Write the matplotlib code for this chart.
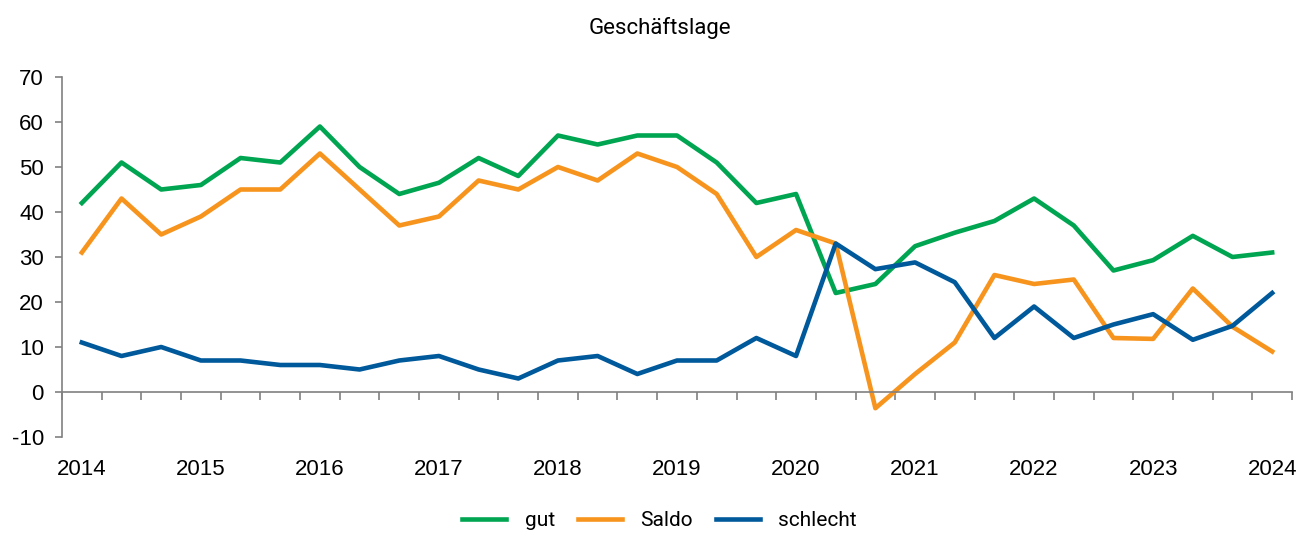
import matplotlib.pyplot as plt
import numpy as np

# Geschäftslage, drei Werte pro Jahr (2014 .. 2024)
years = ['2014', '2015', '2016', '2017', '2018', '2019', '2020', '2021', '2022', '2023', '2024']
gut = [42, 51, 45, 46, 52, 51, 59, 50, 44, 46.5, 52, 48, 57, 55, 57, 57, 51, 42, 44, 22, 24,
       32.4, 35.4, 38, 43, 37, 27, 29.3, 34.7, 30, 31]
saldo = [31, 43, 35, 39, 45, 45, 53, 45, 37, 39, 47, 45, 50, 47, 53, 50, 44, 30, 36, 33, -3.6,
         4, 11, 26, 24, 25, 12, 11.8, 23, 14.5, 9]
schlecht = [11, 8, 10, 7, 7, 6, 6, 5, 7, 8, 5, 3, 7, 8, 4, 7, 7, 12, 8, 33, 27.3,
            28.8, 24.4, 12, 19, 12, 15, 17.3, 11.6, 14.7, 22]

cond = ['Roboto', 'DejaVu Sans']
plt.rcParams['font.family'] = ['Liberation Sans', 'DejaVu Sans']
plt.rcParams['axes.unicode_minus'] = False

fig = plt.figure(figsize=(13.06, 5.37), dpi=100)
ax = fig.add_axes([62 / 1306, 1 - 437 / 537, 1230 / 1306, 360 / 537])

x = np.arange(len(gut))
ax.plot(x, gut, color='#00a551', lw=3.3, label='gut')
ax.plot(x, saldo, color='#f7941d', lw=3.3, label='Saldo')
ax.plot(x, schlecht, color='#00599b', lw=3.3, label='schlecht')

ax.set_xlim(-0.5, len(gut) - 0.5)
ax.set_ylim(-10, 70)
ax.set_yticks(range(-10, 71, 10))

for s in ['top', 'right']:
    ax.spines[s].set_visible(False)
ax.spines['bottom'].set_position(('data', 0))
ax.spines['left'].set_color('#808080')
ax.spines['bottom'].set_color('#808080')
ax.spines['left'].set_linewidth(1.2)
ax.spines['bottom'].set_linewidth(1.2)

# tick marks between categories, year labels under the plot area
ax.set_xticks(np.arange(-0.5, len(gut), 1))
ax.set_xticklabels([])
ax.set_xticks(np.arange(0, len(gut), 3), minor=True)
ax.set_xticklabels(years, minor=True)
ax.tick_params(axis='x', which='major', direction='out', length=6, width=1.2, color='#808080')
ax.tick_params(axis='x', which='minor', length=0, pad=48, labelsize=16)
ax.tick_params(axis='y', direction='out', length=5, width=1.2, color='#808080', labelsize=16, pad=8)

fig.text(0.505, 1 - 28 / 537, 'Geschäftslage', ha='center', va='center', fontsize=16,
         family=cond, fontstretch='condensed')

leg = fig.legend(loc='center', bbox_to_anchor=(0.505, 1 - 521 / 537), ncol=3, frameon=False,
                 handlelength=2.1, columnspacing=1.1, handletextpad=0.9,
                 prop={'family': cond, 'size': 15, 'stretch': 'condensed'})

fig.savefig('out.png', dpi=100)
